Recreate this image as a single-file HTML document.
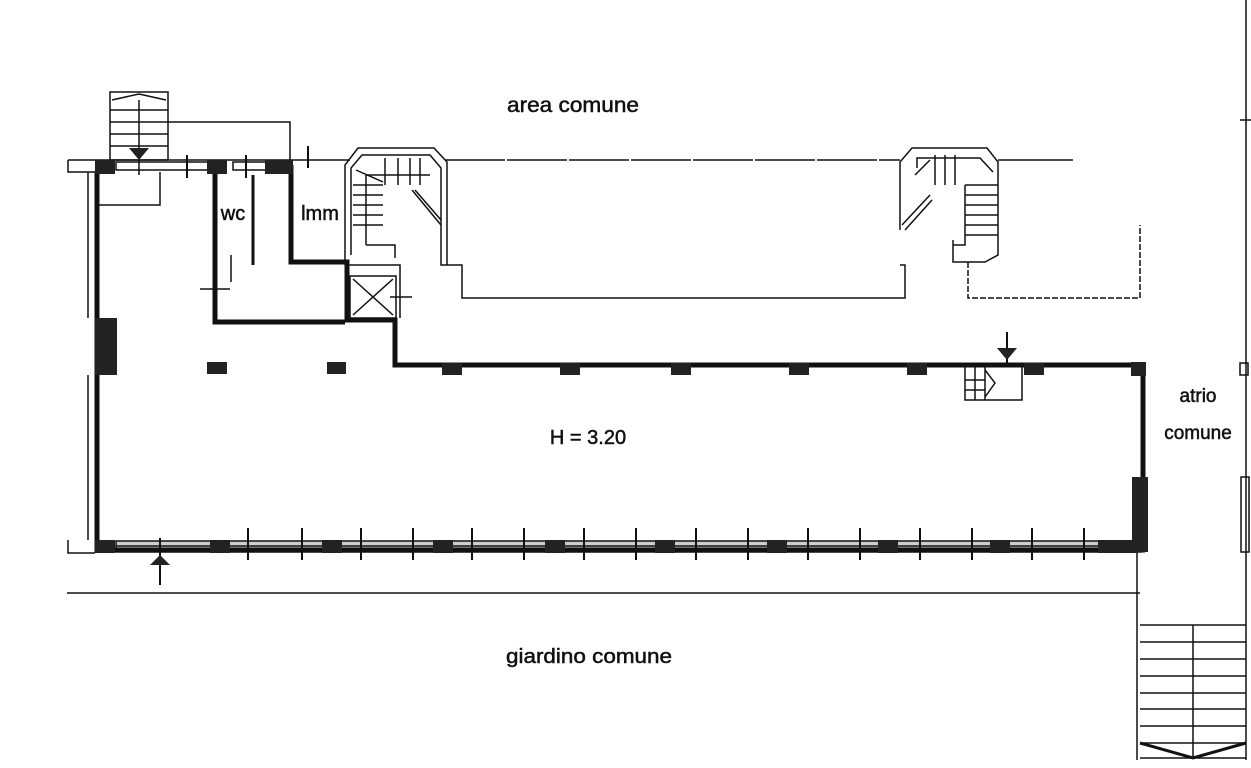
<!DOCTYPE html>
<html><head><meta charset="utf-8"><style>
html,body{margin:0;padding:0;background:#fff;}
svg{display:block;}
text{font-family:"Liberation Sans",Arial,sans-serif;fill:#111;stroke:#111;stroke-width:0.5;}
</style></head><body>
<svg width="1251" height="768" viewBox="0 0 1251 768" xmlns="http://www.w3.org/2000/svg">
<g fill="none" stroke="#111" stroke-width="1.5">
 <rect x="110" y="92" width="58" height="68"/>
 <path d="M112 100 L139 94 L166 100"/>
 <line x1="110" y1="110" x2="168" y2="110"/><line x1="110" y1="122" x2="168" y2="122"/>
 <line x1="110" y1="134" x2="168" y2="134"/><line x1="110" y1="146" x2="168" y2="146"/>
 <line x1="139" y1="100" x2="139" y2="175"/>
 <path d="M168 122 L290 122 L290 160"/>
 <line x1="68" y1="160" x2="350" y2="160"/>
 <line x1="445" y1="160" x2="900" y2="160" stroke-dasharray="60 2"/>
 <line x1="998" y1="160" x2="1073" y2="160"/>
 <path d="M68 160 L68 172 L95 172"/>
 <path d="M96 172 L96 205 L160 205 L160 172"/>
 <path d="M88 172 L88 318"/><path d="M88 375 L88 540"/>
 <path d="M68 540 L68 553 L95 553"/>
 <path d="M345 265 L345 165 L358 148 L434 148 L447 162 L447 265"/>
 <path d="M351 255 L351 168 L362 155 L430 155 L441 168 L441 235"/>
 <path d="M366 245 L366 175 L430 175"/>
 <path d="M356 170 L383 182"/><path d="M353 185 L383 185"/><path d="M353 195 L383 195"/><path d="M353 205 L383 205"/>
 <path d="M353 215 L383 215"/><path d="M353 225 L383 225"/><path d="M366 245 L395 245 L395 258"/>
 <path d="M385 158 L385 185"/><path d="M398 158 L398 185"/><path d="M410 158 L410 185"/><path d="M420 158 L420 185"/>
 <path d="M412 190 L441 225"/><path d="M415 190 L441 220"/>
 <path d="M441 235 L441 265 L462 265 L462 298 L905 298 L905 265 L900 265"/>
 <path d="M900 230 L900 162 L912 148 L987 148 L998 162 L998 255 L985 262 L953 262 L953 240"/>
 <path d="M917 168 L917 158 L980 158 L993 172"/>
 <path d="M915 175 L930 160"/><path d="M935 155 L935 185"/><path d="M945 155 L945 185"/><path d="M955 155 L955 185"/>
 <path d="M965 185 L998 185"/><path d="M965 195 L998 195"/><path d="M965 205 L998 205"/><path d="M965 215 L998 215"/><path d="M965 225 L998 225"/><path d="M965 235 L998 235"/><path d="M965 185 L965 245 L953 245"/>
 <path d="M902 225 L930 195"/><path d="M905 230 L932 200"/>
 <path d="M968 262 L968 298 L1140 298 L1140 225" stroke-dasharray="6 2"/>
 <rect x="350" y="276" width="46" height="42"/>
 <path d="M353 279 L393 315 M393 279 L353 315"/>
 <path d="M345 265 L400 265 L400 318"/>
 <line x1="390" y1="297" x2="412" y2="297"/>
 <line x1="253" y1="175" x2="253" y2="265" stroke-width="3"/>
 <line x1="231" y1="255" x2="231" y2="282"/>
 <line x1="200" y1="289" x2="230" y2="289"/>
 <line x1="67" y1="593" x2="1140" y2="593"/>
 <line x1="1137" y1="553" x2="1137" y2="760"/>
 <line x1="1246" y1="0" x2="1246" y2="760"/>
 <line x1="1240" y1="120" x2="1251" y2="120"/>
 <rect x="1240" y="363" width="8" height="12"/>
 <rect x="1241" y="477" width="8" height="75"/>
 <line x1="1140" y1="625" x2="1246" y2="625"/><line x1="1140" y1="642" x2="1246" y2="642"/>
 <line x1="1140" y1="659" x2="1246" y2="659"/><line x1="1140" y1="676" x2="1246" y2="676"/>
 <line x1="1140" y1="693" x2="1246" y2="693"/><line x1="1140" y1="709" x2="1246" y2="709"/>
 <line x1="1140" y1="726" x2="1246" y2="726"/><line x1="1140" y1="743" x2="1246" y2="743"/>
 <line x1="1140" y1="758" x2="1246" y2="758"/>
 <line x1="1193" y1="625" x2="1193" y2="758"/>
 <path d="M1140 743 L1193 758 L1246 743" stroke-width="3"/>
 <path d="M965 367 L965 400 L1022 400 L1022 367"/>
 <path d="M965 380 L985 380 M965 390 L985 390 M975 367 L975 400 M985 367 L985 400"/>
 <path d="M985 370 L995 383 L985 397"/>
 <rect x="116" y="162" width="97" height="8"/>
 <rect x="233" y="162" width="35" height="8"/>
 <rect x="116" y="541" width="1025" height="11" fill="#ccc"/>
 <line x1="116" y1="546" x2="1141" y2="546"/>
</g>
<g stroke="#111" stroke-width="2">
 <line x1="187" y1="155" x2="187" y2="178"/><line x1="246" y1="155" x2="246" y2="178"/><line x1="308" y1="146" x2="308" y2="168"/>
 <line x1="248" y1="528" x2="248" y2="560"/><line x1="302" y1="528" x2="302" y2="560"/><line x1="361" y1="528" x2="361" y2="560"/><line x1="413" y1="528" x2="413" y2="560"/>
 <line x1="472" y1="528" x2="472" y2="560"/><line x1="524" y1="528" x2="524" y2="560"/><line x1="584" y1="528" x2="584" y2="560"/><line x1="636" y1="528" x2="636" y2="560"/>
 <line x1="696" y1="528" x2="696" y2="560"/><line x1="748" y1="528" x2="748" y2="560"/><line x1="808" y1="528" x2="808" y2="560"/><line x1="860" y1="528" x2="860" y2="560"/>
 <line x1="920" y1="528" x2="920" y2="560"/><line x1="972" y1="528" x2="972" y2="560"/><line x1="1032" y1="528" x2="1032" y2="560"/><line x1="1084" y1="528" x2="1084" y2="560"/>
 <line x1="160" y1="538" x2="160" y2="585"/>
 <line x1="1007" y1="332" x2="1007" y2="365"/>
</g>
<g fill="none" stroke="#111" stroke-width="5">
 <path d="M97 172 L97 550 L1145 550"/>
 <path d="M215 172 L215 322 L345 322"/>
 <path d="M291 165 L291 262 L347 262 L347 320 L395 320 L395 365 L1143 365 L1143 550"/>
</g>
<g fill="#222">
 <rect x="95" y="160" width="20" height="14"/><rect x="207" y="160" width="20" height="14"/><rect x="265" y="160" width="28" height="14"/>
 <rect x="95" y="318" width="22" height="57"/>
 <rect x="207" y="362" width="20" height="12"/><rect x="327" y="362" width="19" height="12"/>
 <rect x="442" y="363" width="20" height="12"/><rect x="560" y="363" width="20" height="12"/><rect x="671" y="363" width="20" height="12"/><rect x="789" y="363" width="20" height="12"/><rect x="907" y="363" width="20" height="12"/><rect x="1024" y="363" width="20" height="12"/><rect x="1131" y="362" width="15" height="14"/>
 <rect x="1132" y="477" width="16" height="75"/>
 <rect x="95" y="540" width="20" height="13"/>
 <rect x="210" y="540" width="20" height="13"/><rect x="322" y="540" width="20" height="13"/><rect x="433" y="540" width="20" height="13"/><rect x="545" y="540" width="20" height="13"/><rect x="655" y="540" width="20" height="13"/><rect x="767" y="540" width="20" height="13"/><rect x="878" y="540" width="20" height="13"/><rect x="990" y="540" width="20" height="13"/><rect x="1098" y="540" width="40" height="13"/>
 <path d="M129 148 L149 148 L139 160 Z"/><path d="M997 348 L1017 348 L1007 360 Z"/><path d="M150 565 L170 565 L160 555 Z"/>
</g>
<text x="573" y="112" font-size="21" text-anchor="middle" textLength="132" lengthAdjust="spacingAndGlyphs">area comune</text>
<text x="588" y="444" font-size="20" text-anchor="middle">H = 3.20</text>
<text x="589" y="663" font-size="20" text-anchor="middle" textLength="166" lengthAdjust="spacingAndGlyphs">giardino comune</text>
<text x="1198" y="402" font-size="19" text-anchor="middle">atrio</text>
<text x="1198" y="439" font-size="19" text-anchor="middle">comune</text>
<text x="233" y="220" font-size="20" text-anchor="middle">wc</text>
<text x="320" y="220" font-size="20" text-anchor="middle">lmm</text>
</svg>
</body></html>
